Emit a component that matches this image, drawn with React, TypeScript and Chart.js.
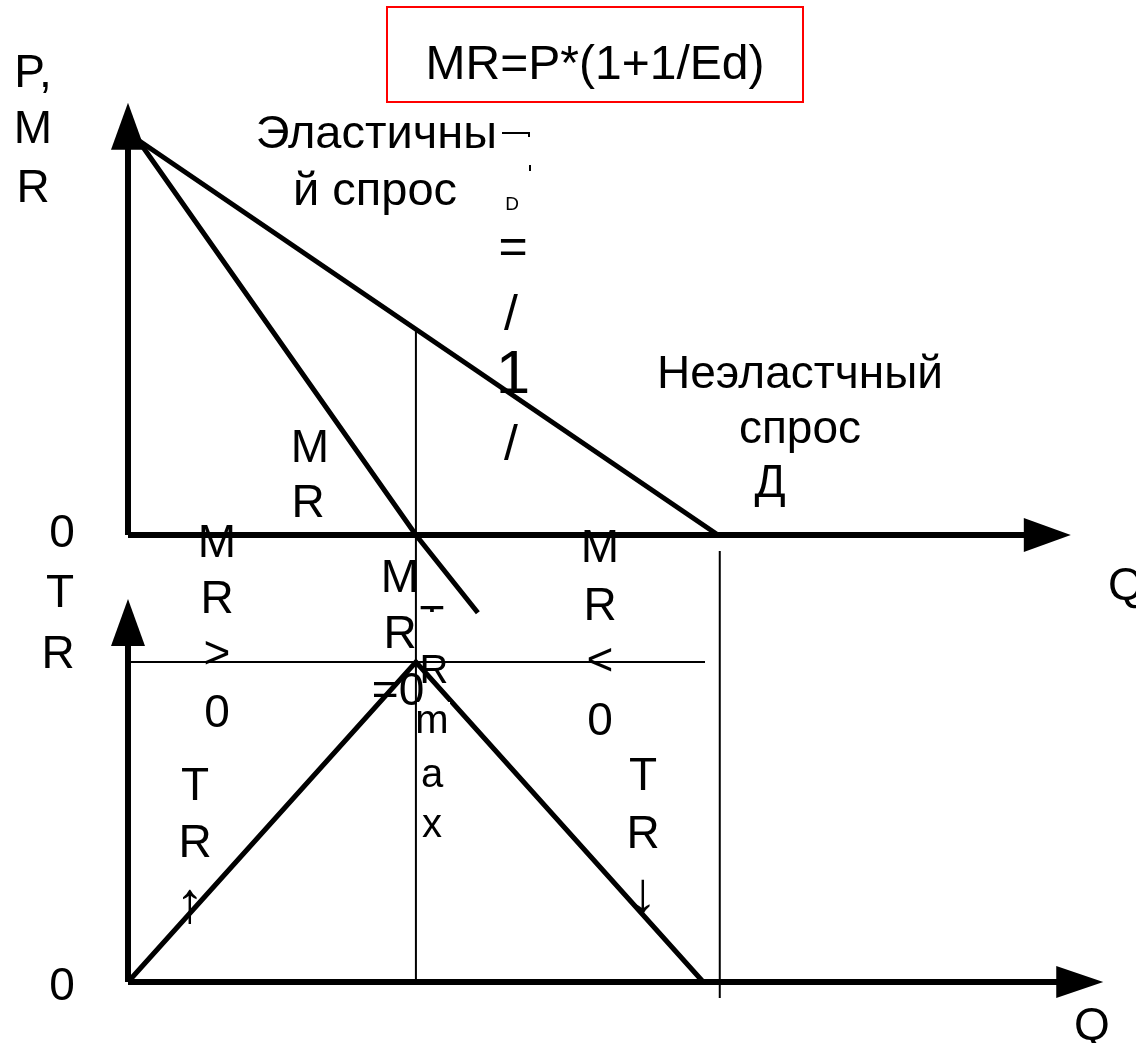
import React, { useEffect, useRef } from "react";
import { Chart, registerables } from "chart.js";

Chart.register(...registerables);

const W = 1136;
const H = 1043;

// ---- Top panel: P, MR against Q ----
const demandQ = [0.17, 10];
const demandP = [10, 0];
const mrQ = [0.17, 4.88, 5.93];
const mrP = [10, 0, -1.97];
const pAxisTip = 10.94;
const qAxisTopTip = 15.98;

// ---- Bottom panel: TR against Q ----
const trQ = [0, 4.88, 9.75];
const trValues = [0, 25, 0];
const trAxisTip = 29.92;
const qAxisBottomTip = 16.53;
const trMaxLineQ = [0.05, 9.78];
const trMaxLevel = 25;

// ---- Guide lines (drawn against the TR scale) ----
const qStar = 4.88;
const qStarGuide = [50.94, 0];
const qDemandEnd = 10.03;
const qDemandGuide = [33.67, -1.25];

const FONT = '"Liberation Sans", Arial, sans-serif';

const pts = (xs: number[], ys: number[]) => xs.map((x, i) => ({ x, y: ys[i] }));

const line = (data: { x: number; y: number }[], axis: string, width: number) => ({
  data,
  yAxisID: axis,
  showLine: true,
  borderColor: "#000",
  backgroundColor: "#000",
  borderWidth: width,
  pointRadius: 0,
  tension: 0,
  borderCapStyle: "butt" as const,
});

const drawingPlugin = {
  id: "drawing",
  afterDatasetsDraw(chart: any) {
    const ctx: CanvasRenderingContext2D = chart.ctx;
    const sx = chart.scales.x;
    const sy = chart.scales.y;
    const sb = chart.scales.yBot;
    ctx.save();
    ctx.fillStyle = "#000";

    const arrow = (tx: number, ty: number, dir: "up" | "right", len: number, half: number) => {
      ctx.beginPath();
      if (dir === "up") {
        ctx.moveTo(tx, ty);
        ctx.lineTo(tx - half, ty + len);
        ctx.lineTo(tx + half, ty + len);
      } else {
        ctx.moveTo(tx, ty);
        ctx.lineTo(tx - len, ty - half);
        ctx.lineTo(tx - len, ty + half);
      }
      ctx.closePath();
      ctx.fill();
    };
    arrow(sx.getPixelForValue(0), sy.getPixelForValue(pAxisTip), "up", 47, 17);
    arrow(sx.getPixelForValue(qAxisTopTip), sy.getPixelForValue(0), "right", 47, 17);
    arrow(sx.getPixelForValue(0), sb.getPixelForValue(trAxisTip), "up", 47, 17);
    arrow(sx.getPixelForValue(qAxisBottomTip), sb.getPixelForValue(0), "right", 47, 16);

    // red formula box
    ctx.strokeStyle = "#ff0000";
    ctx.lineWidth = 2;
    ctx.strokeRect(387, 7, 416, 95);

    const t = (s: string, x: number, y: number, size = 46, align: CanvasTextAlign = "center") => {
      ctx.font = `${size}px ${FONT}`;
      ctx.textAlign = align;
      ctx.textBaseline = "alphabetic";
      ctx.fillStyle = "#000";
      ctx.fillText(s, x, y);
    };

    t("MR=P*(1+1/Ed)", 595, 79, 48);

    // axis titles
    t("P,", 33, 87);
    t("M", 33, 143);
    t("R", 33, 202);
    t("0", 62, 547);
    t("T", 60, 607);
    t("R", 58, 668);
    t("0", 62, 1000);
    t("Q", 1108, 600, 46, "left");
    t("Q", 1092, 1040);

    // elastic part
    t("Эластичны", 497, 148, 47, "right");
    t("й спрос", 375, 205, 47);

    // clipped E_D = -1 box
    ctx.strokeStyle = "#000";
    ctx.lineWidth = 2;
    ctx.beginPath();
    ctx.moveTo(502, 133);
    ctx.lineTo(529, 133);
    ctx.lineTo(529, 137);
    ctx.moveTo(530, 165);
    ctx.lineTo(530, 171);
    ctx.stroke();
    t("D", 512, 210, 19);
    t("=", 513, 263, 50);
    t("/", 511, 330, 50);
    t("1", 513, 393, 62);
    t("/", 511, 460, 50);

    // inelastic part
    t("Неэластчный", 800, 388);
    t("спрос", 800, 443);
    t("Д", 770, 497);

    // MR label
    t("M", 310, 462);
    t("R", 308, 517);

    // MR > 0
    t("M", 217, 557);
    t("R", 217, 613);
    t(">", 217, 668);
    t("0", 217, 727);

    // MR = 0
    t("M", 400, 592);
    t("R", 400, 648);
    t("=0", 398, 705);

    // TR max
    t("T", 432, 634, 40);
    ctx.fillStyle = "#fff";
    ctx.fillRect(417, 612, 33, 38);
    ctx.fillRect(417, 702, 33, 41);
    t("R", 434, 683, 40);
    t("m", 432, 733, 40);
    t("a", 432, 787, 40);
    t("x", 432, 837, 40);

    // MR < 0
    t("M", 600, 562);
    t("R", 600, 620);
    t("<", 600, 675);
    t("0", 600, 735);

    // TR up
    t("T", 195, 800);
    t("R", 195, 857);
    t("↑", 190, 922, 58);

    // TR down
    t("T", 643, 790);
    t("R", 643, 848);
    t("↓", 643, 912, 58);

    ctx.restore();
  },
};

export default function App() {
  const ref = useRef<HTMLCanvasElement | null>(null);

  useEffect(() => {
    if (!ref.current) return;
    const chart = new Chart(ref.current, {
      type: "scatter",
      data: {
        datasets: [
          line(pts([0, 0], [0, pAxisTip - 1]), "y", 6),
          line(pts([0, qAxisTopTip - 0.5], [0, 0]), "y", 6),
          line(pts(demandQ, demandP), "y", 5),
          line(pts(mrQ, mrP), "y", 5),
          line(pts([0, 0], [0, trAxisTip - 2]), "yBot", 6),
          line(pts([0, qAxisBottomTip - 0.5], [0, 0]), "yBot", 6),
          line(pts(trQ, trValues), "yBot", 5),
          line(pts(trMaxLineQ, [trMaxLevel, trMaxLevel]), "yBot", 2),
          line(pts([qStar, qStar], qStarGuide), "yBot", 2),
          line(pts([qDemandEnd, qDemandEnd], qDemandGuide), "yBot", 2),
        ] as any,
      },
      options: {
        responsive: false,
        animation: false,
        layout: { padding: 0 },
        plugins: { legend: { display: false }, tooltip: { enabled: false }, title: { display: false } },
        scales: {
          x: { type: "linear", min: -2.1695, max: 17.085, display: false },
          y: { type: "linear", min: -12.861, max: 13.544, display: false },
          yBot: { type: "linear", min: -4.7656, max: 76.719, display: false },
        },
      },
      plugins: [drawingPlugin],
    });
    return () => chart.destroy();
  }, []);

  return (
    <div style={{ position: "fixed", left: 0, top: 0, width: W, height: H, background: "#fff" }}>
      <canvas ref={ref} width={W} height={H} style={{ display: "block", width: W, height: H }} />
    </div>
  );
}
